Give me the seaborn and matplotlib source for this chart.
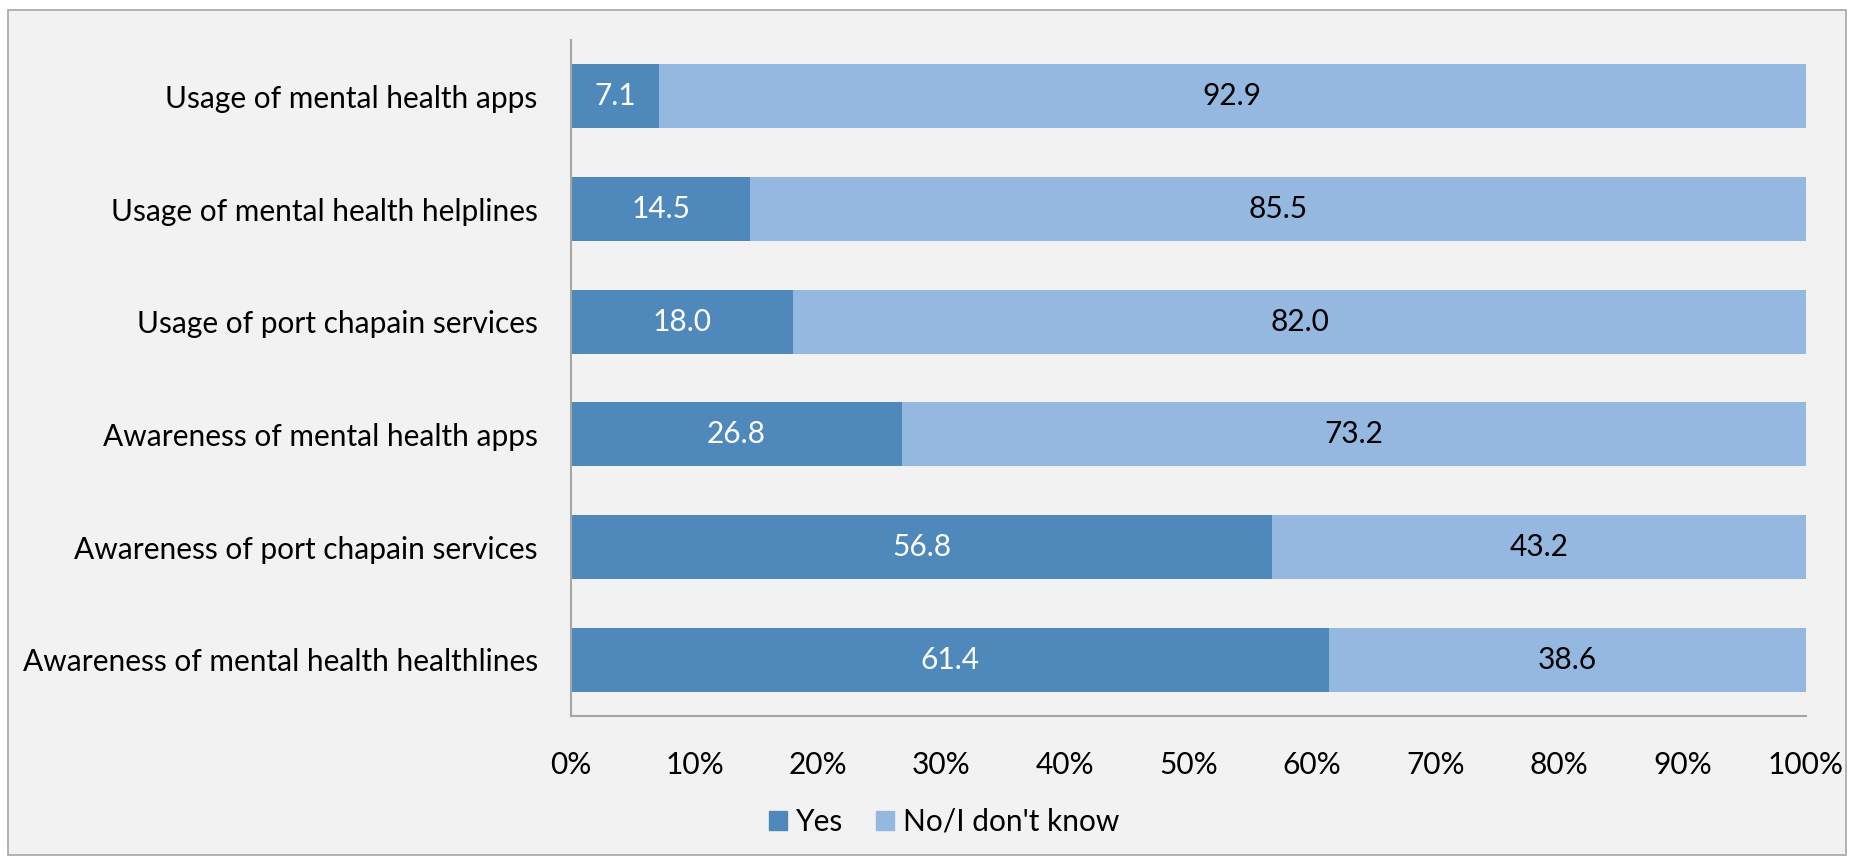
import matplotlib
matplotlib.use("Agg")
import matplotlib.pyplot as plt
import seaborn as sns
import pandas as pd
from matplotlib.patches import Rectangle

categories = [
    "Usage of mental health apps",
    "Usage of mental health helplines",
    "Usage of port chapain services",
    "Awareness of mental health apps",
    "Awareness of port chapain services",
    "Awareness of mental health healthlines",
]
yes_vals = [7.1, 14.5, 18.0, 26.8, 56.8, 61.4]
no_vals = [92.9, 85.5, 82.0, 73.2, 43.2, 38.6]
series_names = ["Yes", "No/I don't know"]
x_ticks = [0, 10, 20, 30, 40, 50, 60, 70, 80, 90, 100]
tick_labels = [f"{t}%" for t in x_ticks]

yes_color = "#4F89BC"
no_color = "#95B8E0"
bg = "#F2F2F2"

sns.set_theme(style="white")
plt.rcParams["font.family"] = ["Lato", "DejaVu Sans"]
plt.rcParams["text.color"] = "black"
plt.rcParams["xtick.color"] = "black"
plt.rcParams["ytick.color"] = "black"

df = pd.DataFrame({"category": categories, "yes": yes_vals, "no": no_vals})
df["total"] = df["yes"] + df["no"]

fig = plt.figure(figsize=(18.5, 8.58), dpi=100)
fig.patch.set_facecolor("white")
fig.patches.append(Rectangle((8 / 1850, 3 / 858), 1838 / 1850, 845 / 858,
                             transform=fig.transFigure, facecolor=bg,
                             edgecolor="#A6A6A6", linewidth=1.2, zorder=-10))

ax = fig.add_axes([571 / 1850, 1 - 716 / 858, (1806 - 571) / 1850, (716 - 40) / 858])
ax.set_facecolor(bg)

sns.barplot(data=df, y="category", x="total", color=no_color, orient="h",
            width=0.57, ax=ax, saturation=1, linewidth=0, label=series_names[1])
sns.barplot(data=df, y="category", x="yes", color=yes_color, orient="h",
            width=0.57, ax=ax, saturation=1, linewidth=0, label=series_names[0])

for i, (y, n) in enumerate(zip(yes_vals, no_vals)):
    ax.text(y / 2, i, f"{y:.1f}", ha="center", va="center", color="white", fontsize=21.5)
    ax.text(y + n / 2, i, f"{n:.1f}", ha="center", va="center", color="black", fontsize=21.5)

ax.set_xlim(0, 100)
ax.set_ylim(5.5, -0.5)
ax.set_xticks(x_ticks)
ax.set_xticklabels(tick_labels, fontsize=21.5)
ax.tick_params(axis="x", pad=25, length=0)
ax.tick_params(axis="y", pad=24, length=0, labelsize=21.5)
ax.set_xlabel("")
ax.set_ylabel("")
for side in ["top", "right"]:
    ax.spines[side].set_visible(False)
for side in ["left", "bottom"]:
    ax.spines[side].set_color("#A6A6A6")
    ax.spines[side].set_linewidth(1.5)

if ax.legend_ is not None:
    ax.legend_.remove()
handles = [Rectangle((0, 0), 1, 1, color=yes_color), Rectangle((0, 0), 1, 1, color=no_color)]
fig.legend(handles, series_names, loc="center", bbox_to_anchor=(944 / 1850, 1 - 822 / 858),
           ncol=2, frameon=False, fontsize=21.5, handlelength=0.6, handleheight=0.6,
           handletextpad=0.3, columnspacing=1.1, borderpad=0)

fig.savefig("out.png", dpi=100, facecolor=fig.get_facecolor())
